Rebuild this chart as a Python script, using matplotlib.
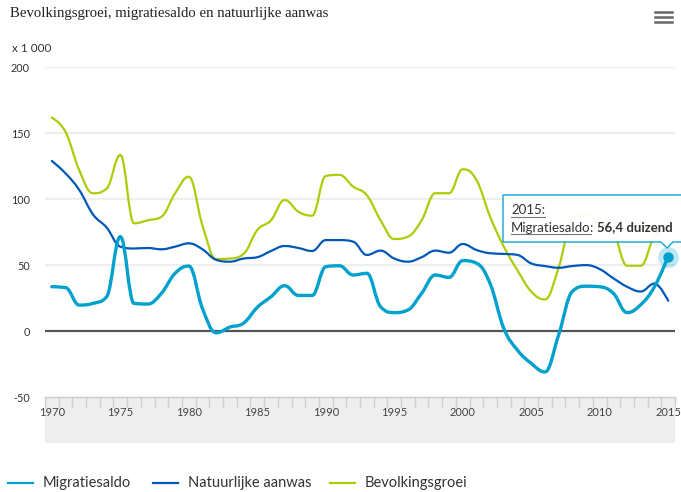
import numpy as np
import matplotlib
matplotlib.use("Agg")
import matplotlib.pyplot as plt
from matplotlib.path import Path
from matplotlib.patches import PathPatch, Rectangle, Polygon
from matplotlib.lines import Line2D

# ---------------- data ----------------
years = list(range(1970, 2016))
migratiesaldo = [33.6, 33, 19.7, 21, 26, 71.6, 21, 20.5, 28.6, 43.8,
                 49.3, 17, -1.3, 3, 6, 18, 26, 34.4, 27, 27,
                 48.8, 49.5, 42.5, 43.8, 18.5, 14, 16, 28.6, 42.5, 40.7,
                 53.4, 51.5, 36, 2, -14.5, -24.5, -31, -3, 30, 34,
                 33.6, 28.6, 14, 20, 33.6, 56.4]
natuurlijke_aanwas = [129, 119.6, 107, 88.5, 78.5, 64, 62.6, 63, 62, 64,
                      66.5, 62, 54, 52.6, 55, 56, 60.7, 64.5, 63, 60.7,
                      69, 69, 67.8, 57.7, 61, 55, 52.6, 56, 61, 59.4,
                      66, 61.5, 59, 58.5, 57.7, 51.3, 49.3, 48, 49.3, 50,
                      47, 40, 33.6, 30, 36, 23]
bevolkingsgroei = [161.8, 151, 122, 104.5, 108, 133.5, 81.7, 84, 86.7, 104.5,
                   117, 80, 54.6, 55, 58.5, 76.6, 84, 99.4, 90.5, 87.5,
                   117.6, 118.4, 109.5, 103, 84, 69.8, 71.6, 84, 104.5, 104.5,
                   122.7, 114.6, 86.7, 64, 46, 30, 24, 48, 85, 89,
                   81, 75, 49.5, 49.5, 72, 78]
series_names = ["Migratiesaldo", "Natuurlijke aanwas", "Bevolkingsgroei"]
series_values = [migratiesaldo, natuurlijke_aanwas, bevolkingsgroei]
series_colors = ["#00a1cd", "#0058b8", "#afcb05"]
y_ticks = [-50, 0, 50, 100, 150, 200]
x_labels = [1970, 1975, 1980, 1985, 1990, 1995, 2000, 2005, 2010, 2015]
title = "Bevolkingsgroei, migratiesaldo en natuurlijke aanwas"
unit_label = "x 1 000"
tooltip_year = "2015:"
tooltip_value = "56,4 duizend"

W, H = 681, 492
SANS = ["Lato", "DejaVu Sans"]
plt.rcParams["font.family"] = SANS


def px(x, y):
    return (x / W, 1 - y / H)


def hc_spline_path(xs, ys, smoothing=1.5):
    """Highcharts-style spline (cubic bezier) through the data points."""
    n = len(xs)
    denom = smoothing + 1
    lc = [None] * n
    rc = [None] * n
    for i in range(1, n - 1):
        px_, py_ = xs[i], ys[i]
        lx, ly = xs[i - 1], ys[i - 1]
        nx, ny = xs[i + 1], ys[i + 1]
        lcx = (smoothing * px_ + lx) / denom
        lcy = (smoothing * py_ + ly) / denom
        rcx = (smoothing * px_ + nx) / denom
        rcy = (smoothing * py_ + ny) / denom
        corr = 0
        if rcx != lcx:
            corr = (rcy - lcy) * (rcx - px_) / (rcx - lcx) + py_ - rcy
        lcy += corr
        rcy += corr
        if lcy > ly and lcy > py_:
            lcy = max(ly, py_); rcy = 2 * py_ - lcy
        elif lcy < ly and lcy < py_:
            lcy = min(ly, py_); rcy = 2 * py_ - lcy
        if rcy > ny and rcy > py_:
            rcy = max(ny, py_); lcy = 2 * py_ - rcy
        elif rcy < ny and rcy < py_:
            rcy = min(ny, py_); lcy = 2 * py_ - rcy
        lc[i] = (lcx, lcy)
        rc[i] = (rcx, rcy)
    verts = [(xs[0], ys[0])]
    codes = [Path.MOVETO]
    for i in range(1, n):
        c1 = rc[i - 1] if rc[i - 1] is not None else (xs[i - 1], ys[i - 1])
        c2 = lc[i] if lc[i] is not None else (xs[i], ys[i])
        verts += [c1, c2, (xs[i], ys[i])]
        codes += [Path.CURVE4] * 3
    return Path(verts, codes)


fig = plt.figure(figsize=(W / 100, H / 100), dpi=100)
fig.patch.set_facecolor("white")

left, right, top, bottom = 45, 675, 67.3, 397
ax = fig.add_axes([left / W, 1 - bottom / H, (right - left) / W, (bottom - top) / H])
ax.set_zorder(2)
ax.set_xlim(1969.5, 2015.5)
ax.set_ylim(-50, 200)
ax.set_facecolor("none")

# navigator background
fig.patches.append(Rectangle(px(45, 443), 630 / W, 46 / H, transform=fig.transFigure,
                             facecolor="#eeeeee", edgecolor="none", zorder=0))

# grid
for v in y_ticks:
    if v == -50:
        continue
    if v == 0:
        ax.axhline(0, color="#555555", lw=1.6, zorder=2)
    else:
        ax.axhline(v, color="#eeeeee", lw=1.6, zorder=1)

# series
lws = [2.4, 1.6, 1.6]
zs = [5, 4, 3]
for vals, c, lw, z in zip(series_values, series_colors, lws, zs):
    path = hc_spline_path(years, vals)
    ax.add_patch(PathPatch(path, facecolor="none", edgecolor=c, lw=lw, zorder=z,
                           capstyle="round", joinstyle="round"))

# hover marker
ax.plot([years[-1]], [migratiesaldo[-1]], "o", color="#00a1cd", ms=15, alpha=0.25,
        mec="none", clip_on=False, zorder=6)
ax.plot([years[-1]], [migratiesaldo[-1]], "o", color="#00a1cd", ms=7.5,
        mec="none", clip_on=False, zorder=7)

# axes styling
for s in ["top", "right", "left"]:
    ax.spines[s].set_visible(False)
ax.spines["bottom"].set_color("#cccccc")
ax.spines["bottom"].set_linewidth(1)
ax.set_yticks(y_ticks)
ax.set_yticklabels([str(v) for v in y_ticks], fontsize=7.8, color="#333333")
ax.tick_params(axis="y", length=0, pad=11)
ax.set_xticks(x_labels)
ax.set_xticklabels([str(v) for v in x_labels], fontsize=8, color="#444444")
ax.set_xticks([y + 0.5 for y in range(1969, 2016)], minor=True)
ax.tick_params(axis="x", which="major", length=0, pad=7.5)
ax.tick_params(axis="x", which="minor", length=7, color="#cccccc", width=1)

# title & unit
fig.text(*px(10, 14), title, family=["Liberation Serif", "DejaVu Serif"], fontsize=10.6,
         color="#222222", ha="left", va="center")
fig.text(*px(12, 48), unit_label, fontsize=8.5, color="#333333", ha="left", va="center")

# hamburger menu
for yy in (11.7, 16.7, 21.7):
    fig.add_artist(Line2D([655 / W, 672 / W], [1 - yy / H] * 2, color="#666666", lw=1.8,
                          transform=fig.transFigure))

# legend
leg_x = [8, 153, 330]
for name, c, lx in zip(series_names, series_colors, leg_x):
    fig.add_artist(Line2D([lx / W, (lx + 25) / W], [1 - 482.5 / H] * 2, color=c, lw=1.6,
                          transform=fig.transFigure))
    fig.text(*px(lx + 35, 483), name, fontsize=10.5, color="#333333", ha="left", va="center")

# tooltip
tip = [(503, 195), (690, 195), (690, 242), (673, 242), (667, 248), (661, 242), (503, 242)]
fig.patches.append(Polygon([px(*p) for p in tip], closed=True, transform=fig.transFigure,
                           facecolor="white", edgecolor="#00a1cd", lw=1, alpha=0.95, zorder=10))
t1 = fig.text(*px(511, 210), tooltip_year, fontsize=9.5, color="#333333", ha="left",
              va="center", zorder=11)
t2 = fig.text(*px(511, 227.5), series_names[0], fontsize=9.5, color="#333333", ha="left",
              va="center", zorder=11)
fig.canvas.draw()
r = fig.canvas.get_renderer()
b2 = t2.get_window_extent(r)
t3 = fig.text(b2.x1 / W, 1 - 227.5 / H, ": ", fontsize=9.5, color="#333333", ha="left",
              va="center", zorder=11)
b3 = t3.get_window_extent(r)
fig.text(b3.x1 / W, 1 - 227.5 / H, tooltip_value, fontsize=9.5, color="#333333", ha="left",
         va="center", fontweight="bold", zorder=11)
b1 = t1.get_window_extent(r)
for b, yy in ((b1, 216.5), (b2, 234)):
    fig.add_artist(Line2D([b.x0 / W, b.x1 / W], [1 - yy / H] * 2, color="#777777", lw=0.8,
                          transform=fig.transFigure, zorder=11))

fig.savefig("out.png", dpi=100)
